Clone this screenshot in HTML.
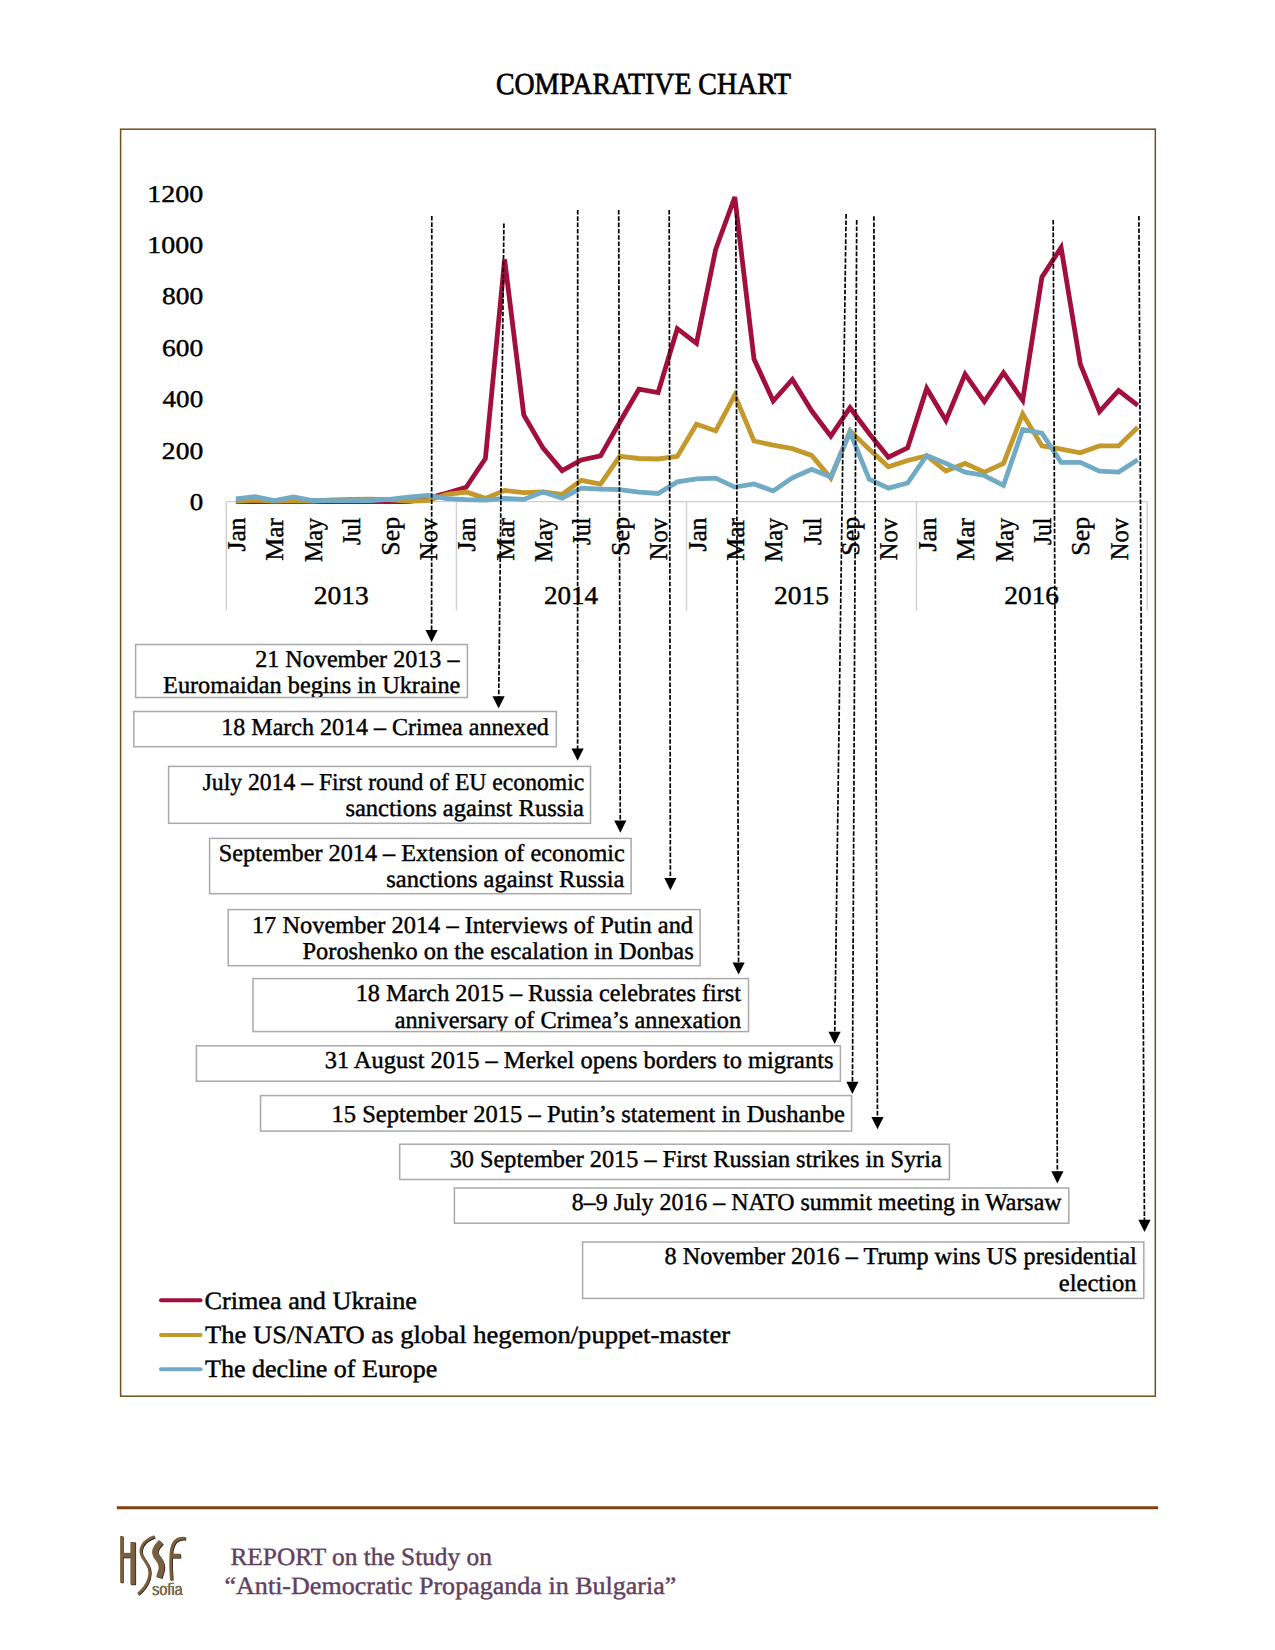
<!DOCTYPE html>
<html><head><meta charset="utf-8"><title>Comparative Chart</title>
<style>
html,body{margin:0;padding:0;background:#fff;}
body{width:1275px;height:1650px;overflow:hidden;}
svg{display:block;font-family:"Liberation Serif", serif;text-rendering:geometricPrecision;}
</style></head>
<body>
<svg width="1275" height="1650" viewBox="0 0 1275 1650">
<rect x="120.6" y="129.2" width="1034.7" height="1267" fill="none" stroke="#6e5122" stroke-width="1.5"/>
<line x1="226.3" y1="501.6" x2="1147.2" y2="501.6" stroke="#cfcfcf" stroke-width="1.4"/>
<line x1="226.3" y1="501.6" x2="226.3" y2="610.5" stroke="#cfcfcf" stroke-width="1.4"/>
<line x1="456.4" y1="501.6" x2="456.4" y2="610.5" stroke="#cfcfcf" stroke-width="1.4"/>
<line x1="686.5" y1="501.6" x2="686.5" y2="610.5" stroke="#cfcfcf" stroke-width="1.4"/>
<line x1="916.5" y1="501.6" x2="916.5" y2="610.5" stroke="#cfcfcf" stroke-width="1.4"/>
<line x1="1147.2" y1="501.6" x2="1147.2" y2="610.5" stroke="#cfcfcf" stroke-width="1.4"/>
<text x="147.22" y="201.60" font-size="24.1" textLength="56.00" lengthAdjust="spacingAndGlyphs" fill="#000" stroke="#000" stroke-width="0.42">1200</text>
<text x="147.22" y="253.00" font-size="24.1" textLength="56.00" lengthAdjust="spacingAndGlyphs" fill="#000" stroke="#000" stroke-width="0.42">1000</text>
<text x="162.00" y="304.40" font-size="24.1" textLength="41.20" lengthAdjust="spacingAndGlyphs" fill="#000" stroke="#000" stroke-width="0.42">800</text>
<text x="162.00" y="355.80" font-size="24.1" textLength="41.20" lengthAdjust="spacingAndGlyphs" fill="#000" stroke="#000" stroke-width="0.42">600</text>
<text x="162.56" y="407.20" font-size="24.1" textLength="40.63" lengthAdjust="spacingAndGlyphs" fill="#000" stroke="#000" stroke-width="0.42">400</text>
<text x="161.86" y="458.60" font-size="24.1" textLength="41.34" lengthAdjust="spacingAndGlyphs" fill="#000" stroke="#000" stroke-width="0.42">200</text>
<text x="189.72" y="510.00" font-size="24.1" textLength="13.45" lengthAdjust="spacingAndGlyphs" fill="#000" stroke="#000" stroke-width="0.42">0</text>
<text transform="translate(245.00,518.0) rotate(-90)" x="-33.51" y="0" font-size="25.6" textLength="33.84" lengthAdjust="spacingAndGlyphs" stroke="#000" stroke-width="0.42">Jan</text>
<text transform="translate(283.38,518.0) rotate(-90)" x="-42.67" y="0" font-size="25.6" textLength="42.83" lengthAdjust="spacingAndGlyphs" stroke="#000" stroke-width="0.42">Mar</text>
<text transform="translate(321.76,518.0) rotate(-90)" x="-44.02" y="0" font-size="25.6" textLength="44.09" lengthAdjust="spacingAndGlyphs" stroke="#000" stroke-width="0.42">May</text>
<text transform="translate(360.14,518.0) rotate(-90)" x="-27.07" y="0" font-size="25.6" textLength="27.47" lengthAdjust="spacingAndGlyphs" stroke="#000" stroke-width="0.42">Jul</text>
<text transform="translate(398.52,518.0) rotate(-90)" x="-37.68" y="0" font-size="25.6" textLength="38.71" lengthAdjust="spacingAndGlyphs" stroke="#000" stroke-width="0.42">Sep</text>
<text transform="translate(436.90,518.0) rotate(-90)" x="-42.13" y="0" font-size="25.6" textLength="42.19" lengthAdjust="spacingAndGlyphs" stroke="#000" stroke-width="0.42">Nov</text>
<text transform="translate(475.28,518.0) rotate(-90)" x="-33.51" y="0" font-size="25.6" textLength="33.84" lengthAdjust="spacingAndGlyphs" stroke="#000" stroke-width="0.42">Jan</text>
<text transform="translate(513.66,518.0) rotate(-90)" x="-42.67" y="0" font-size="25.6" textLength="42.83" lengthAdjust="spacingAndGlyphs" stroke="#000" stroke-width="0.42">Mar</text>
<text transform="translate(552.04,518.0) rotate(-90)" x="-44.02" y="0" font-size="25.6" textLength="44.09" lengthAdjust="spacingAndGlyphs" stroke="#000" stroke-width="0.42">May</text>
<text transform="translate(590.42,518.0) rotate(-90)" x="-27.07" y="0" font-size="25.6" textLength="27.47" lengthAdjust="spacingAndGlyphs" stroke="#000" stroke-width="0.42">Jul</text>
<text transform="translate(628.80,518.0) rotate(-90)" x="-37.68" y="0" font-size="25.6" textLength="38.71" lengthAdjust="spacingAndGlyphs" stroke="#000" stroke-width="0.42">Sep</text>
<text transform="translate(667.18,518.0) rotate(-90)" x="-42.13" y="0" font-size="25.6" textLength="42.19" lengthAdjust="spacingAndGlyphs" stroke="#000" stroke-width="0.42">Nov</text>
<text transform="translate(705.56,518.0) rotate(-90)" x="-33.51" y="0" font-size="25.6" textLength="33.84" lengthAdjust="spacingAndGlyphs" stroke="#000" stroke-width="0.42">Jan</text>
<text transform="translate(743.94,518.0) rotate(-90)" x="-42.67" y="0" font-size="25.6" textLength="42.83" lengthAdjust="spacingAndGlyphs" stroke="#000" stroke-width="0.42">Mar</text>
<text transform="translate(782.32,518.0) rotate(-90)" x="-44.02" y="0" font-size="25.6" textLength="44.09" lengthAdjust="spacingAndGlyphs" stroke="#000" stroke-width="0.42">May</text>
<text transform="translate(820.70,518.0) rotate(-90)" x="-27.07" y="0" font-size="25.6" textLength="27.47" lengthAdjust="spacingAndGlyphs" stroke="#000" stroke-width="0.42">Jul</text>
<text transform="translate(859.08,518.0) rotate(-90)" x="-37.68" y="0" font-size="25.6" textLength="38.71" lengthAdjust="spacingAndGlyphs" stroke="#000" stroke-width="0.42">Sep</text>
<text transform="translate(897.46,518.0) rotate(-90)" x="-42.13" y="0" font-size="25.6" textLength="42.19" lengthAdjust="spacingAndGlyphs" stroke="#000" stroke-width="0.42">Nov</text>
<text transform="translate(935.84,518.0) rotate(-90)" x="-33.51" y="0" font-size="25.6" textLength="33.84" lengthAdjust="spacingAndGlyphs" stroke="#000" stroke-width="0.42">Jan</text>
<text transform="translate(974.22,518.0) rotate(-90)" x="-42.67" y="0" font-size="25.6" textLength="42.83" lengthAdjust="spacingAndGlyphs" stroke="#000" stroke-width="0.42">Mar</text>
<text transform="translate(1012.60,518.0) rotate(-90)" x="-44.02" y="0" font-size="25.6" textLength="44.09" lengthAdjust="spacingAndGlyphs" stroke="#000" stroke-width="0.42">May</text>
<text transform="translate(1050.98,518.0) rotate(-90)" x="-27.07" y="0" font-size="25.6" textLength="27.47" lengthAdjust="spacingAndGlyphs" stroke="#000" stroke-width="0.42">Jul</text>
<text transform="translate(1089.36,518.0) rotate(-90)" x="-37.68" y="0" font-size="25.6" textLength="38.71" lengthAdjust="spacingAndGlyphs" stroke="#000" stroke-width="0.42">Sep</text>
<text transform="translate(1127.74,518.0) rotate(-90)" x="-42.13" y="0" font-size="25.6" textLength="42.19" lengthAdjust="spacingAndGlyphs" stroke="#000" stroke-width="0.42">Nov</text>
<text x="313.81" y="603.90" font-size="25.7" textLength="54.93" lengthAdjust="spacingAndGlyphs" fill="#000" stroke="#000" stroke-width="0.42">2013</text>
<text x="543.93" y="603.90" font-size="25.7" textLength="54.23" lengthAdjust="spacingAndGlyphs" fill="#000" stroke="#000" stroke-width="0.42">2014</text>
<text x="773.96" y="603.90" font-size="25.7" textLength="54.93" lengthAdjust="spacingAndGlyphs" fill="#000" stroke="#000" stroke-width="0.42">2015</text>
<text x="1004.32" y="603.90" font-size="25.7" textLength="54.65" lengthAdjust="spacingAndGlyphs" fill="#000" stroke="#000" stroke-width="0.42">2016</text>
<polyline points="235.9,501.5 255.1,501.5 274.3,501.5 293.5,501.5 312.7,501.5 331.9,501.5 351.0,501.5 370.2,501.5 389.4,501.5 408.6,501.5 427.8,498.4 447.0,493.0 466.2,487.3 485.4,458.5 504.6,259.4 523.8,414.9 542.9,447.9 562.1,470.6 581.3,460.0 600.5,455.9 619.7,422.2 638.9,389.2 658.1,392.5 677.3,328.7 696.5,343.3 715.7,249.3 734.8,197.0 754.0,359.0 773.2,401.0 792.4,379.4 811.6,410.8 830.8,436.1 850.0,407.7 869.2,433.5 888.4,457.2 907.6,447.9 926.7,388.4 945.9,420.4 965.1,374.2 984.3,401.6 1003.5,372.7 1022.7,400.3 1041.9,277.1 1061.1,247.5 1080.3,364.2 1099.5,411.6 1118.6,390.5 1137.8,405.4" fill="none" stroke="#a30f3c" stroke-width="4.8" stroke-linejoin="miter" stroke-miterlimit="4" stroke-linecap="butt"/>
<polyline points="235.9,501.2 255.1,500.2 274.3,501.2 293.5,500.5 312.7,501.2 331.9,500.0 351.0,499.4 370.2,499.2 389.4,499.7 408.6,501.0 427.8,500.7 447.0,494.3 466.2,492.0 485.4,498.4 504.6,490.4 523.8,492.7 542.9,492.0 562.1,494.5 581.3,480.4 600.5,484.2 619.7,456.4 638.9,458.5 658.1,459.0 677.3,456.4 696.5,424.2 715.7,430.9 734.8,395.1 754.0,441.0 773.2,445.1 792.4,448.7 811.6,455.4 830.8,478.1 850.0,430.9 869.2,449.2 888.4,466.7 907.6,460.5 926.7,455.9 945.9,471.1 965.1,463.4 984.3,472.1 1003.5,463.4 1022.7,413.9 1041.9,445.9 1061.1,449.2 1080.3,452.8 1099.5,445.9 1118.6,445.9 1137.8,427.3" fill="none" stroke="#c4982a" stroke-width="4.8" stroke-linejoin="miter" stroke-miterlimit="4" stroke-linecap="butt"/>
<polyline points="235.9,498.9 255.1,496.6 274.3,500.5 293.5,496.9 312.7,500.5 331.9,500.7 351.0,500.7 370.2,500.5 389.4,499.4 408.6,497.1 427.8,495.3 447.0,498.7 466.2,499.7 485.4,500.2 504.6,498.4 523.8,499.4 542.9,492.0 562.1,498.2 581.3,488.1 600.5,489.1 619.7,489.7 638.9,492.2 658.1,493.5 677.3,481.9 696.5,478.8 715.7,478.1 734.8,487.1 754.0,484.0 773.2,490.9 792.4,477.8 811.6,469.3 830.8,476.8 850.0,432.2 869.2,479.3 888.4,488.1 907.6,483.0 926.7,455.4 945.9,463.4 965.1,472.1 984.3,475.5 1003.5,485.3 1022.7,429.4 1041.9,433.2 1061.1,462.3 1080.3,462.3 1099.5,471.1 1118.6,472.1 1137.8,459.8" fill="none" stroke="#70aac5" stroke-width="4.8" stroke-linejoin="miter" stroke-miterlimit="4" stroke-linecap="butt"/>
<line x1="431.8" y1="216" x2="431.61" y2="631.10" stroke="#000" stroke-width="1.7" stroke-dasharray="4.6 1.7"/>
<path d="M425.50,630.10 L437.70,630.10 L431.60,642.30 Z" fill="#000"/>
<line x1="503.9" y1="223.5" x2="498.73" y2="697.20" stroke="#000" stroke-width="1.7" stroke-dasharray="4.6 1.7"/>
<path d="M492.50,696.20 L504.70,696.20 L498.60,708.40 Z" fill="#000"/>
<line x1="577.7" y1="210" x2="577.60" y2="749.60" stroke="#000" stroke-width="1.7" stroke-dasharray="4.6 1.7"/>
<path d="M571.50,748.60 L583.70,748.60 L577.60,760.80 Z" fill="#000"/>
<line x1="618.7" y1="210" x2="620.27" y2="821.60" stroke="#000" stroke-width="1.7" stroke-dasharray="4.6 1.7"/>
<path d="M614.20,820.60 L626.40,820.60 L620.30,832.80 Z" fill="#000"/>
<line x1="669.2" y1="210" x2="670.38" y2="879.00" stroke="#000" stroke-width="1.7" stroke-dasharray="4.6 1.7"/>
<path d="M664.30,878.00 L676.50,878.00 L670.40,890.20 Z" fill="#000"/>
<line x1="735.8" y1="214" x2="738.56" y2="963.40" stroke="#000" stroke-width="1.7" stroke-dasharray="4.6 1.7"/>
<path d="M732.50,962.40 L744.70,962.40 L738.60,974.60 Z" fill="#000"/>
<line x1="846.1" y1="214.1" x2="834.77" y2="1032.80" stroke="#000" stroke-width="1.7" stroke-dasharray="4.6 1.7"/>
<path d="M828.50,1031.80 L840.70,1031.80 L834.60,1044.00 Z" fill="#000"/>
<line x1="856.7" y1="220.1" x2="852.46" y2="1082.70" stroke="#000" stroke-width="1.7" stroke-dasharray="4.6 1.7"/>
<path d="M846.30,1081.70 L858.50,1081.70 L852.40,1093.90 Z" fill="#000"/>
<line x1="873.9" y1="216.2" x2="877.45" y2="1118.00" stroke="#000" stroke-width="1.7" stroke-dasharray="4.6 1.7"/>
<path d="M871.40,1117.00 L883.60,1117.00 L877.50,1129.20 Z" fill="#000"/>
<line x1="1053.2" y1="220" x2="1057.35" y2="1172.20" stroke="#000" stroke-width="1.7" stroke-dasharray="4.6 1.7"/>
<path d="M1051.30,1171.20 L1063.50,1171.20 L1057.40,1183.40 Z" fill="#000"/>
<line x1="1138.9" y1="215.9" x2="1144.43" y2="1220.70" stroke="#000" stroke-width="1.7" stroke-dasharray="4.6 1.7"/>
<path d="M1138.40,1219.70 L1150.60,1219.70 L1144.50,1231.90 Z" fill="#000"/>
<clipPath id="bc0"><rect x="135.60" y="644.50" width="331.80" height="52.40"/></clipPath>
<rect x="135.60" y="644.50" width="331.80" height="53.00" fill="#fff" stroke="#a9a9a9" stroke-width="1.5"/>
<g clip-path="url(#bc0)">
<text x="255.21" y="666.80" font-size="24.3" textLength="204.28" lengthAdjust="spacingAndGlyphs" fill="#000" stroke="#000" stroke-width="0.42">21 November 2013 –</text>
<text x="163.07" y="693.20" font-size="24.3" textLength="297.29" lengthAdjust="spacingAndGlyphs" fill="#000" stroke="#000" stroke-width="0.42">Euromaidan begins in Ukraine</text>
</g>
<clipPath id="bc1"><rect x="133.80" y="711.50" width="422.50" height="34.60"/></clipPath>
<rect x="133.80" y="711.50" width="422.50" height="35.20" fill="#fff" stroke="#a9a9a9" stroke-width="1.5"/>
<g clip-path="url(#bc1)">
<text x="221.26" y="734.70" font-size="24.3" textLength="327.57" lengthAdjust="spacingAndGlyphs" fill="#000" stroke="#000" stroke-width="0.42">18 March 2014 – Crimea annexed</text>
</g>
<clipPath id="bc2"><rect x="168.60" y="766.40" width="421.90" height="56.30"/></clipPath>
<rect x="168.60" y="766.40" width="421.90" height="56.90" fill="#fff" stroke="#a9a9a9" stroke-width="1.5"/>
<g clip-path="url(#bc2)">
<text x="202.63" y="789.70" font-size="24.3" textLength="381.62" lengthAdjust="spacingAndGlyphs" fill="#000" stroke="#000" stroke-width="0.42">July 2014 – First round of EU economic</text>
<text x="345.42" y="816.00" font-size="24.3" textLength="238.57" lengthAdjust="spacingAndGlyphs" fill="#000" stroke="#000" stroke-width="0.42">sanctions against Russia</text>
</g>
<clipPath id="bc3"><rect x="209.60" y="838.40" width="421.50" height="54.70"/></clipPath>
<rect x="209.60" y="838.40" width="421.50" height="55.30" fill="#fff" stroke="#a9a9a9" stroke-width="1.5"/>
<g clip-path="url(#bc3)">
<text x="218.82" y="861.30" font-size="24.3" textLength="405.93" lengthAdjust="spacingAndGlyphs" fill="#000" stroke="#000" stroke-width="0.42">September 2014 – Extension of economic</text>
<text x="386.32" y="887.20" font-size="24.3" textLength="238.07" lengthAdjust="spacingAndGlyphs" fill="#000" stroke="#000" stroke-width="0.42">sanctions against Russia</text>
</g>
<clipPath id="bc4"><rect x="228.20" y="909.60" width="471.90" height="55.50"/></clipPath>
<rect x="228.20" y="909.60" width="471.90" height="56.10" fill="#fff" stroke="#a9a9a9" stroke-width="1.5"/>
<g clip-path="url(#bc4)">
<text x="251.93" y="933.30" font-size="24.3" textLength="441.12" lengthAdjust="spacingAndGlyphs" fill="#000" stroke="#000" stroke-width="0.42">17 November 2014 – Interviews of Putin and</text>
<text x="302.47" y="959.20" font-size="24.3" textLength="391.18" lengthAdjust="spacingAndGlyphs" fill="#000" stroke="#000" stroke-width="0.42">Poroshenko on the escalation in Donbas</text>
</g>
<clipPath id="bc5"><rect x="253.00" y="978.60" width="495.50" height="52.40"/></clipPath>
<rect x="253.00" y="978.60" width="495.50" height="53.00" fill="#fff" stroke="#a9a9a9" stroke-width="1.5"/>
<g clip-path="url(#bc5)">
<text x="355.64" y="1001.30" font-size="24.3" textLength="385.40" lengthAdjust="spacingAndGlyphs" fill="#000" stroke="#000" stroke-width="0.42">18 March 2015 – Russia celebrates first</text>
<text x="394.65" y="1028.00" font-size="24.3" textLength="346.52" lengthAdjust="spacingAndGlyphs" fill="#000" stroke="#000" stroke-width="0.42">anniversary of Crimea’s annexation</text>
</g>
<clipPath id="bc6"><rect x="196.40" y="1045.80" width="644.00" height="34.80"/></clipPath>
<rect x="196.40" y="1045.80" width="644.00" height="35.40" fill="#fff" stroke="#a9a9a9" stroke-width="1.5"/>
<g clip-path="url(#bc6)">
<text x="324.70" y="1068.10" font-size="24.3" textLength="508.78" lengthAdjust="spacingAndGlyphs" fill="#000" stroke="#000" stroke-width="0.42">31 August 2015 – Merkel opens borders to migrants</text>
</g>
<clipPath id="bc7"><rect x="260.50" y="1095.60" width="591.10" height="34.90"/></clipPath>
<rect x="260.50" y="1095.60" width="591.10" height="35.50" fill="#fff" stroke="#a9a9a9" stroke-width="1.5"/>
<g clip-path="url(#bc7)">
<text x="331.51" y="1122.30" font-size="24.3" textLength="513.32" lengthAdjust="spacingAndGlyphs" fill="#000" stroke="#000" stroke-width="0.42">15 September 2015 – Putin’s statement in Dushanbe</text>
</g>
<clipPath id="bc8"><rect x="399.70" y="1144.20" width="549.70" height="34.70"/></clipPath>
<rect x="399.70" y="1144.20" width="549.70" height="35.30" fill="#fff" stroke="#a9a9a9" stroke-width="1.5"/>
<g clip-path="url(#bc8)">
<text x="449.71" y="1166.60" font-size="24.3" textLength="491.98" lengthAdjust="spacingAndGlyphs" fill="#000" stroke="#000" stroke-width="0.42">30 September 2015 – First Russian strikes in Syria</text>
</g>
<clipPath id="bc9"><rect x="454.40" y="1188.00" width="614.40" height="34.60"/></clipPath>
<rect x="454.40" y="1188.00" width="614.40" height="35.20" fill="#fff" stroke="#a9a9a9" stroke-width="1.5"/>
<g clip-path="url(#bc9)">
<text x="571.84" y="1210.40" font-size="24.3" textLength="489.72" lengthAdjust="spacingAndGlyphs" fill="#000" stroke="#000" stroke-width="0.42">8–9 July 2016 – NATO summit meeting in Warsaw</text>
</g>
<clipPath id="bc10"><rect x="582.60" y="1242.00" width="561.20" height="55.80"/></clipPath>
<rect x="582.60" y="1242.00" width="561.20" height="56.40" fill="#fff" stroke="#a9a9a9" stroke-width="1.5"/>
<g clip-path="url(#bc10)">
<text x="664.53" y="1264.20" font-size="24.3" textLength="472.17" lengthAdjust="spacingAndGlyphs" fill="#000" stroke="#000" stroke-width="0.42">8 November 2016 – Trump wins US presidential</text>
<text x="1058.71" y="1291.00" font-size="24.3" textLength="77.95" lengthAdjust="spacingAndGlyphs" fill="#000" stroke="#000" stroke-width="0.42">election</text>
</g>
<line x1="161" y1="1300.3" x2="200.5" y2="1300.3" stroke="#a30f3c" stroke-width="4" stroke-linecap="round"/>
<text x="204.45" y="1309.00" font-size="24.9" textLength="212.51" lengthAdjust="spacingAndGlyphs" fill="#000" stroke="#000" stroke-width="0.42">Crimea and Ukraine</text>
<line x1="161" y1="1335.0" x2="200.5" y2="1335.0" stroke="#c4982a" stroke-width="4" stroke-linecap="round"/>
<text x="204.97" y="1342.70" font-size="24.9" textLength="525.20" lengthAdjust="spacingAndGlyphs" fill="#000" stroke="#000" stroke-width="0.42">The US/NATO as global hegemon/puppet-master</text>
<line x1="161" y1="1369.2" x2="200.5" y2="1369.2" stroke="#70aac5" stroke-width="4" stroke-linecap="round"/>
<text x="204.98" y="1377.40" font-size="24.9" textLength="232.27" lengthAdjust="spacingAndGlyphs" fill="#000" stroke="#000" stroke-width="0.42">The decline of Europe</text>
<text x="495.89" y="93.90" font-size="30.6" textLength="295.22" lengthAdjust="spacingAndGlyphs" fill="#000" stroke="#000" stroke-width="0.7">COMPARATIVE CHART</text>
<line x1="116.8" y1="1507.7" x2="1158.1" y2="1507.7" stroke="#7f4210" stroke-width="3"/>
<text x="230.44" y="1564.60" font-size="25.0" textLength="261.48" lengthAdjust="spacingAndGlyphs" fill="#62405f" stroke="#62405f" stroke-width="0.42">REPORT on the Study on</text>
<text x="224.53" y="1593.50" font-size="25.0" textLength="451.86" lengthAdjust="spacingAndGlyphs" fill="#62405f" stroke="#62405f" stroke-width="0.42">“Anti-Democratic Propaganda in Bulgaria”</text>
<g fill="none" stroke="#2b2116" transform="translate(0.7,0.7)"><path d="M121.6,1536 L121.6,1582.5" stroke-width="2.9"/><path d="M121,1555.2 L131,1555.2" stroke-width="4.8"/><path d="M132.9,1542 L132.9,1584.5" stroke-width="5.0"/><path d="M154.5,1536.5 C142,1541 139,1549 142,1556 C146,1563 152,1568 149,1578 C147,1585 143,1590 138,1594" stroke-width="2.7"/><path d="M161,1542 C157,1546 153.5,1550.5 155.5,1554.5 C158.5,1560 162.5,1562 161.5,1569 L159,1577.5" stroke-width="6.0"/><path d="M171.5,1580 C170.8,1570 170,1560 171.5,1550 C173,1541 178,1537.5 185.5,1538.5" stroke-width="3.0"/><path d="M171,1555.8 L180.5,1555.8" stroke-width="4.2"/></g><g fill="none" stroke="#7a5e40"><path d="M121.6,1536 L121.6,1582.5" stroke-width="2.9"/><path d="M121,1555.2 L131,1555.2" stroke-width="4.8"/><path d="M132.9,1542 L132.9,1584.5" stroke-width="5.0"/><path d="M154.5,1536.5 C142,1541 139,1549 142,1556 C146,1563 152,1568 149,1578 C147,1585 143,1590 138,1594" stroke-width="2.7"/><path d="M161,1542 C157,1546 153.5,1550.5 155.5,1554.5 C158.5,1560 162.5,1562 161.5,1569 L159,1577.5" stroke-width="6.0"/><path d="M171.5,1580 C170.8,1570 170,1560 171.5,1550 C173,1541 178,1537.5 185.5,1538.5" stroke-width="3.0"/><path d="M171,1555.8 L180.5,1555.8" stroke-width="4.2"/></g><text x="151.8" y="1594.6" font-size="17" fill="#2b2116" textLength="30.5" lengthAdjust="spacingAndGlyphs" font-family="Liberation Sans, sans-serif" transform="translate(0.5,0.5)">sofia</text><text x="151.8" y="1594.6" font-size="17" fill="#8a7650" textLength="30.5" lengthAdjust="spacingAndGlyphs" font-family="Liberation Sans, sans-serif">sofia</text>
</svg>
</body></html>
